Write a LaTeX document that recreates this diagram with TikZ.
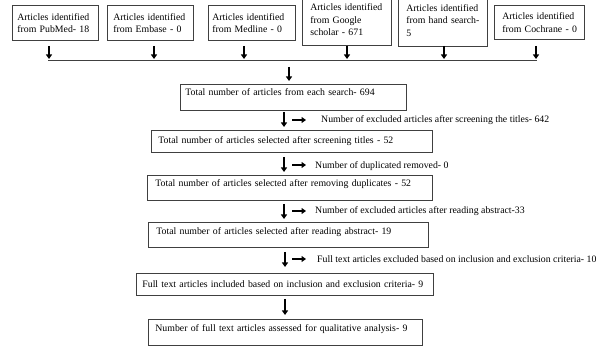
\documentclass[tikz,border=0pt]{standalone}
\usepackage{fontspec}
\setmainfont{Liberation Serif}
\usetikzlibrary{arrows.meta}
\begin{document}
\begin{tikzpicture}[x=1pt,y=-1pt,
  font=\fontsize{9.8}{12.5}\selectfont,
  box/.style={draw=black!75, line width=0.8pt, rectangle, anchor=north west,
    align=left, inner ysep=0pt},
  lab/.style={anchor=west, inner sep=0pt},
  darr/.style={line width=2pt, -{Triangle[length=4.5pt,width=6pt]}},
  rarr/.style={line width=2pt, -{Triangle[length=4.5pt,width=6pt]}},
  joinline/.style={draw=black!75, line width=0.9pt}]
\useasboundingbox (0,0) rectangle (605,347);
\clip (0,0) rectangle (605,347);
\fill[white] (0,0) rectangle (605,347);

% top source boxes
\node[box, minimum width=86pt, minimum height=35pt, inner xsep=5pt, text width=76pt] (pub) at (12,5) {\mbox{Articles identified}\\\mbox{from PubMed- 18}};
\node[box, minimum width=86pt, minimum height=35pt, inner xsep=6pt, text width=74pt] (emb) at (107,5) {\mbox{Articles identified}\\\mbox{from Embase - 0}};
\node[box, minimum width=87pt, minimum height=35pt, inner xsep=4pt, text width=79pt] (med) at (208,5) {\mbox{Articles identified}\\\mbox{from Medline - 0}};
\node[box, minimum width=89pt, minimum height=51pt, inner xsep=8pt, text width=73pt] (goo) at (302,-6) {\mbox{Articles identified}\\\mbox{from Google}\\\mbox{scholar - 671}};
\node[box, minimum width=89pt, minimum height=52pt, inner xsep=8pt, text width=73pt] (hand) at (398,-6) {\mbox{Articles identified}\\\mbox{from hand search-}\\\mbox{5}};
\node[box, minimum width=90pt, minimum height=34pt, inner xsep=8pt, text width=74pt] (coc) at (494,5) {\mbox{Articles identified}\\\mbox{from Cochrane - 0}};

% arrows into the joining line
\foreach \x/\n in {49/1,154/2,244/3,347/4,444/5,536/6}{
  \coordinate (ts\n) at (\x,46);
  \coordinate (te\n) at (\x,59);
  \draw[darr] (ts\n) -- (te\n);
}
\coordinate (jl) at (48,60);
\coordinate (jr) at (537,60);
\draw[joinline] (jl) -- (jr);

\coordinate (d0s) at (289,67);
\coordinate (d0e) at (289,81);
\draw[darr] (d0s) -- (d0e);

% main chain
\node[box, minimum width=226pt, minimum height=26pt, inner xsep=5pt, text width=216pt, text depth=10pt] (b1) at (180,84) {\mbox{Total number of articles from each search- 694}};
\node[box, minimum width=281pt, minimum height=22pt, inner xsep=7pt, text width=267pt] (b2) at (151,130) {\mbox{Total number of articles selected after screening titles - 52}};
\node[box, minimum width=285pt, minimum height=25pt, inner xsep=8pt, text width=269pt, text depth=9pt] (b3) at (147,175) {\mbox{Total number of articles selected after removing duplicates - 52}};
\node[box, minimum width=280pt, minimum height=25pt, inner xsep=8pt, text width=264pt, text depth=7pt] (b4) at (148,222) {\mbox{Total number of articles selected after reading abstract- 19}};
\node[box, minimum width=297pt, minimum height=22pt, inner xsep=6pt, text width=285pt] (b5) at (136,273) {\mbox{Full text articles included based on inclusion and exclusion criteria- 9}};
\node[box, minimum width=274pt, minimum height=26pt, inner xsep=7pt, text width=260pt, text depth=8pt] (b6) at (148,319) {\mbox{Number of full text articles assessed for qualitative analysis- 9}};

% step arrows with side notes
\coordinate (d1s) at (284,112); \coordinate (d1e) at (284,127);
\coordinate (r1s) at (292,120); \coordinate (r1e) at (306,120);
\draw[darr] (d1s) -- (d1e);
\draw[rarr] (r1s) -- (r1e);
\node[lab] (n1) at (321,120) {Number of excluded articles after screening the titles- 642};

\coordinate (d2s) at (284,157); \coordinate (d2e) at (284,172);
\coordinate (r2s) at (292,165); \coordinate (r2e) at (306,165);
\draw[darr] (d2s) -- (d2e);
\draw[rarr] (r2s) -- (r2e);
\node[lab] (n2) at (315,166) {Number of duplicated removed- 0};

\coordinate (d3s) at (284,204); \coordinate (d3e) at (284,219);
\coordinate (r3s) at (292,211); \coordinate (r3e) at (306,211);
\draw[darr] (d3s) -- (d3e);
\draw[rarr] (r3s) -- (r3e);
\node[lab] (n3) at (315,211) {Number of excluded articles after reading abstract-33};

\coordinate (d4s) at (285,252); \coordinate (d4e) at (285,267);
\coordinate (r4s) at (292,259); \coordinate (r4e) at (306,259);
\draw[darr] (d4s) -- (d4e);
\draw[rarr] (r4s) -- (r4e);
\node[lab] (n4) at (317,259) {Full text articles excluded based on inclusion and exclusion criteria- 10};

\coordinate (d5s) at (285,299); \coordinate (d5e) at (285,315);
\draw[darr] (d5s) -- (d5e);
\end{tikzpicture}
\end{document}
